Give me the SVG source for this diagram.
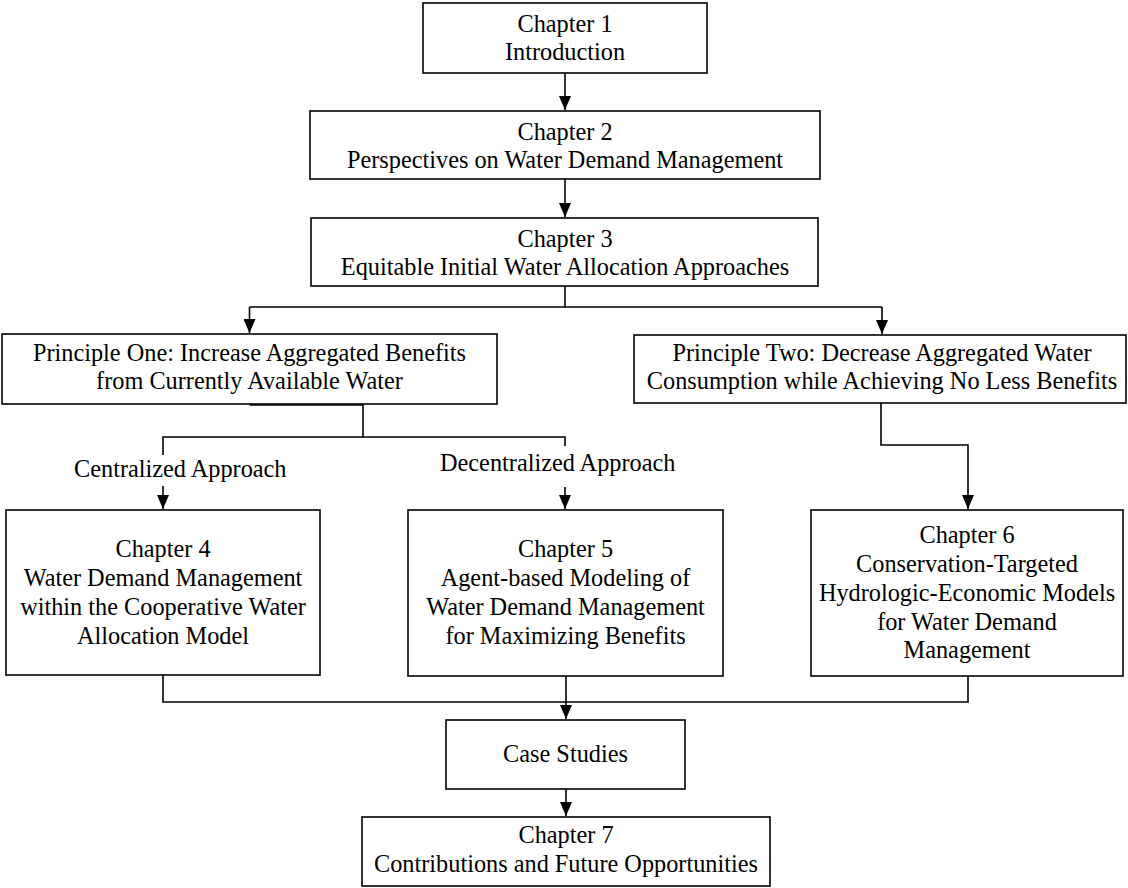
<svg xmlns="http://www.w3.org/2000/svg" width="1128" height="888" viewBox="0 0 1128 888">
  <style>
    .box { fill: #ffffff; stroke: #000000; stroke-width: 1.6; }
    .t { font-family: "Liberation Serif", "Times New Roman", serif; font-size: 24.3px; fill: #000000; text-anchor: middle; }
    .lbl { font-family: "Liberation Serif", "Times New Roman", serif; font-size: 24.3px; fill: #000000; }
    .wire { fill: none; stroke: #000000; stroke-width: 1.6; }
  </style>
  <defs>
    <marker id="arrow" markerUnits="userSpaceOnUse" markerWidth="12" markerHeight="14" viewBox="0 0 12 14" refX="6" refY="14" orient="0">
      <path d="M0,0 L12,0 L6,14 Z" fill="#000000"/>
    </marker>
  </defs>

  <rect width="1128" height="888" fill="#ffffff"/>

  <!-- connectors -->
  <g id="connectors" class="wire">
    <path d="M565,73 V110" marker-end="url(#arrow)"/>
    <path d="M565,179 V217" marker-end="url(#arrow)"/>
    <path d="M565,286 V307"/>
    <path d="M249.5,307 H882"/>
    <path d="M249.5,307 V333" marker-end="url(#arrow)"/>
    <path d="M882,307 V334" marker-end="url(#arrow)"/>
    <!-- Principle One to the two approaches -->
    <path d="M249.5,405 H363"/>
    <path d="M363,404 V437 H163 V455"/>
    <path d="M363,437 H565 V446"/>
    <path d="M163,486 V509" marker-end="url(#arrow)"/>
    <path d="M565,487 V509" marker-end="url(#arrow)"/>
    <!-- Principle Two to Chapter 6 -->
    <path d="M881,403 V445 H968 V509" marker-end="url(#arrow)"/>
    <!-- chapters 4-6 into the case studies -->
    <path d="M163,675 V702 H968 V676"/>
    <path d="M566,676 V719" marker-end="url(#arrow)"/>
    <path d="M566,789 V816" marker-end="url(#arrow)"/>
  </g>

  <g id="label-centralized">
    <text class="lbl" x="74" y="477">Centralized Approach</text>
  </g>
  <g id="label-decentralized">
    <text class="lbl" x="440" y="471">Decentralized Approach</text>
  </g>

  <g id="ch1">
    <rect class="box" x="423" y="3" width="284" height="70"/>
    <text class="t" x="565" y="32">Chapter 1</text>
    <text class="t" x="565" y="60">Introduction</text>
  </g>

  <g id="ch2">
    <rect class="box" x="310" y="111" width="510" height="68"/>
    <text class="t" x="565" y="140">Chapter 2</text>
    <text class="t" x="565" y="168">Perspectives on Water Demand Management</text>
  </g>

  <g id="ch3">
    <rect class="box" x="311" y="218" width="507" height="68"/>
    <text class="t" x="565" y="247">Chapter 3</text>
    <text class="t" x="565" y="275">Equitable Initial Water Allocation Approaches</text>
  </g>

  <g id="principle-one">
    <rect class="box" x="2" y="334" width="495" height="70"/>
    <text class="t" x="249.5" y="361">Principle One: Increase Aggregated Benefits</text>
    <text class="t" x="249.5" y="389">from Currently Available Water</text>
  </g>

  <g id="principle-two">
    <rect class="box" x="634" y="335" width="492" height="68"/>
    <text class="t" x="882" y="361">Principle Two: Decrease Aggregated Water</text>
    <text class="t" x="882" y="389">Consumption while Achieving No Less Benefits</text>
  </g>

  <g id="ch4">
    <rect class="box" x="6" y="510" width="314" height="165"/>
    <text class="t" x="163" y="557">Chapter 4</text>
    <text class="t" x="163" y="586">Water Demand Management</text>
    <text class="t" x="163" y="615">within the Cooperative Water</text>
    <text class="t" x="163" y="644">Allocation Model</text>
  </g>

  <g id="ch5">
    <rect class="box" x="408" y="510" width="315" height="166"/>
    <text class="t" x="565.5" y="557">Chapter 5</text>
    <text class="t" x="565.5" y="586">Agent-based Modeling of</text>
    <text class="t" x="565.5" y="615">Water Demand Management</text>
    <text class="t" x="565.5" y="644">for Maximizing Benefits</text>
  </g>

  <g id="ch6">
    <rect class="box" x="811" y="510" width="312" height="166"/>
    <text class="t" x="967" y="543">Chapter 6</text>
    <text class="t" x="967" y="572">Conservation-Targeted</text>
    <text class="t" x="967" y="601">Hydrologic-Economic Models</text>
    <text class="t" x="967" y="630">for Water Demand</text>
    <text class="t" x="967" y="658">Management</text>
  </g>

  <g id="case-studies">
    <rect class="box" x="446" y="720" width="239" height="69"/>
    <text class="t" x="565.5" y="762">Case Studies</text>
  </g>

  <g id="ch7">
    <rect class="box" x="362" y="817" width="408" height="69"/>
    <text class="t" x="566" y="843">Chapter 7</text>
    <text class="t" x="566" y="872">Contributions and Future Opportunities</text>
  </g>
</svg>
